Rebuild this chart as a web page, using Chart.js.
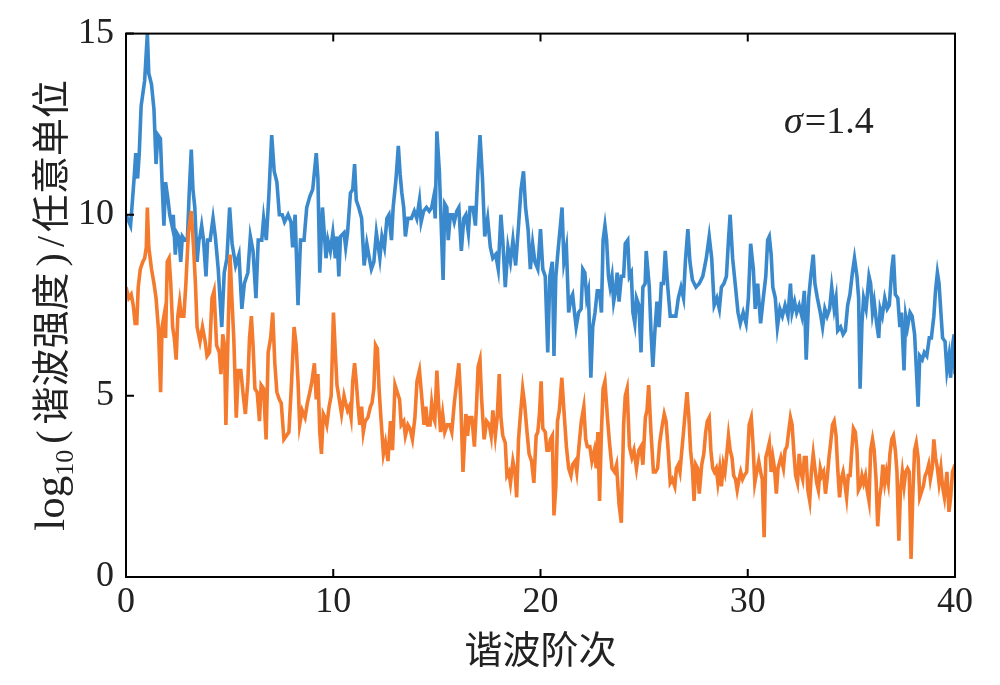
<!DOCTYPE html>
<html>
<head>
<meta charset="utf-8">
<script src="https://cdn.jsdelivr.net/npm/chart.js@4.4.1/dist/chart.umd.min.js"></script>
<style>
  html, body { margin: 0; padding: 0; background: #fff; }
</style>
</head>
<body>
<canvas id="chart" width="1000" height="685"></canvas>
<script>
// harmonic order (x) and log10 intensity (y)
const blueX = [0, 0.22, 0.39, 0.47, 0.56, 0.64, 0.73, 0.9, 1.03, 1.1, 1.23, 1.35, 1.45, 1.54, 1.66, 1.74, 1.83, 1.91, 2.03, 2.11,
  2.22, 2.28, 2.38, 2.45, 2.55, 2.64, 2.72, 2.84, 2.96, 3.05, 3.15, 3.23, 3.32, 3.43, 3.52, 3.57, 3.65, 3.74, 3.86, 3.94,
  4.06, 4.2, 4.31, 4.45, 4.62, 4.74, 4.87, 5.0, 5.12, 5.29, 5.45, 5.59, 5.71, 5.88, 6.0, 6.13, 6.27, 6.38, 6.55, 6.64,
  6.77, 6.89, 7.03, 7.15, 7.28, 7.4, 7.54, 7.65, 7.82, 7.96, 8.04, 8.16, 8.3, 8.42, 8.59, 8.72, 8.87, 9.01, 9.18, 9.26,
  9.35, 9.48, 9.65, 9.74, 9.86, 9.98, 10.1, 10.18, 10.27, 10.35, 10.52, 10.6, 10.69, 10.83, 10.94, 11.03, 11.11, 11.23, 11.37, 11.49,
  11.62, 11.74, 11.84, 11.96, 12.08, 12.18, 12.25, 12.35, 12.47, 12.59, 12.69, 12.81, 12.89, 13.03, 13.14, 13.23, 13.31, 13.4, 13.48, 13.6,
  13.77, 13.91, 14.03, 14.16, 14.24, 14.36, 14.5, 14.63, 14.75, 14.85, 14.92, 15.0, 15.12, 15.3, 15.38, 15.48, 15.55, 15.65, 15.76, 15.84,
  15.96, 16.06, 16.18, 16.3, 16.4, 16.52, 16.6, 16.74, 16.86, 16.98, 17.08, 17.2, 17.31, 17.45, 17.58, 17.7, 17.84, 17.96, 18.09, 18.18,
  18.3, 18.43, 18.55, 18.67, 18.8, 18.94, 19.06, 19.18, 19.28, 19.4, 19.51, 19.62, 19.73, 19.87, 20.0, 20.11, 20.23, 20.35, 20.45, 20.57,
  20.65, 20.74, 20.86, 20.96, 21.04, 21.13, 21.25, 21.36, 21.47, 21.55, 21.64, 21.72, 21.84, 21.96, 22.04, 22.14, 22.23, 22.31, 22.43, 22.52,
  22.63, 22.74, 22.85, 22.94, 23.02, 23.11, 23.19, 23.28, 23.36, 23.45, 23.53, 23.62, 23.7, 23.79, 23.9, 24.01, 24.09, 24.21, 24.29, 24.38,
  24.46, 24.55, 24.63, 24.75, 24.85, 24.94, 25.05, 25.1, 25.25, 25.33, 25.42, 25.52, 25.62, 25.72, 25.83, 25.93, 26.02, 26.14, 26.26, 26.39,
  26.53, 26.65, 26.78, 26.9, 26.99, 27.11, 27.21, 27.33, 27.5, 27.66, 27.83, 28.0, 28.14, 28.26, 28.38, 28.51, 28.63, 28.73, 28.85, 28.97,
  29.07, 29.15, 29.27, 29.41, 29.53, 29.64, 29.78, 29.92, 30.03, 30.14, 30.27, 30.36, 30.48, 30.62, 30.75, 30.87, 30.96, 31.04, 31.13, 31.21,
  31.33, 31.43, 31.55, 31.67, 31.8, 31.94, 32.06, 32.14, 32.26, 32.36, 32.48, 32.61, 32.73, 32.82, 32.94, 33.04, 33.16, 33.24, 33.36, 33.5,
  33.61, 33.72, 33.83, 33.95, 34.05, 34.17, 34.26, 34.34, 34.48, 34.6, 34.71, 34.82, 34.93, 35.05, 35.15, 35.27, 35.35, 35.42, 35.51, 35.59,
  35.71, 35.85, 35.93, 36.02, 36.1, 36.22, 36.32, 36.39, 36.49, 36.61, 36.73, 36.83, 36.95, 37.03, 37.12, 37.24, 37.34, 37.42, 37.54, 37.62,
  37.71, 37.83, 37.93, 38.05, 38.13, 38.22, 38.3, 38.42, 38.52, 38.64, 38.76, 38.86, 38.98, 39.06, 39.15, 39.23, 39.32, 39.4, 39.52, 39.61,
  39.71, 39.79, 39.88, 39.96, 40.0];
const blueY = [10.0, 9.7, 11.0, 11.7, 11.0, 11.7, 13.0, 13.7, 15.0, 13.9, 13.6, 12.9, 11.4, 12.2, 12.1, 10.9, 9.7, 10.9, 10.4, 10.0,
  9.7, 10.0, 8.9, 9.5, 9.4, 8.7, 9.4, 9.3, 9.3, 10.6, 11.8, 10.7, 10.2, 8.7, 9.3, 9.4, 9.7, 9.3, 8.3, 9.3,
  9.3, 9.9, 9.4, 8.5, 6.9, 8.4, 8.8, 10.2, 9.2, 8.6, 8.9, 7.4, 8.1, 8.4, 9.4, 9.0, 7.7, 9.3, 9.3, 9.9,
  9.3, 10.5, 12.2, 11.2, 10.9, 10.0, 10.0, 9.8, 10.0, 9.8, 9.1, 10.0, 7.5, 9.3, 9.3, 10.2, 10.5, 10.7, 11.7, 11.0,
  8.4, 10.2, 8.8, 9.3, 9.0, 9.5, 8.8, 9.4, 8.3, 9.4, 9.5, 9.1, 9.5, 10.6, 10.7, 11.4, 10.4, 10.2, 9.9, 8.6,
  9.2, 8.8, 8.5, 8.7, 9.5, 9.1, 8.8, 9.4, 9.1, 9.9, 10.0, 9.3, 10.2, 11.0, 11.9, 11.1, 10.6, 10.2, 9.4, 9.9,
  9.9, 10.1, 9.9, 10.4, 9.8, 10.1, 10.2, 10.1, 10.2, 10.5, 9.9, 12.3, 11.2, 8.2, 10.3, 10.2, 9.3, 10.0, 10.0, 9.8,
  10.1, 10.2, 9.0, 9.9, 10.0, 9.5, 10.2, 10.2, 9.7, 11.2, 12.2, 11.0, 9.4, 9.9, 9.1, 8.8, 8.9, 8.5, 10.0, 9.3,
  8.0, 9.1, 8.7, 9.3, 8.6, 9.7, 10.7, 11.2, 10.2, 9.6, 8.5, 9.2, 8.7, 8.5, 9.6, 8.5, 8.3, 6.2, 8.3, 8.7,
  6.1, 8.3, 9.1, 9.7, 10.2, 8.7, 9.1, 7.3, 7.7, 7.8, 7.3, 6.9, 7.3, 7.4, 8.5, 8.4, 7.7, 7.9, 5.5, 6.9,
  7.3, 7.9, 7.9, 7.3, 9.3, 9.7, 9.3, 8.3, 8.0, 8.3, 7.6, 7.9, 8.4, 7.6, 8.3, 8.3, 9.2, 9.3, 8.3, 8.4,
  7.3, 7.0, 7.7, 7.5, 6.2, 8.0, 8.1, 9.0, 8.0, 6.8, 5.8, 6.8, 7.6, 6.9, 8.1, 8.1, 9.0, 8.0, 7.2, 7.2,
  7.2, 7.7, 8.0, 7.7, 8.7, 9.6, 8.7, 8.2, 8.0, 8.1, 8.3, 8.8, 9.4, 8.8, 7.5, 7.7, 7.4, 8.0, 8.1, 8.3,
  9.3, 10.0, 8.8, 8.0, 7.3, 7.0, 7.3, 7.0, 7.7, 9.2, 8.5, 7.4, 8.1, 7.0, 7.7, 8.3, 9.3, 9.4, 8.9, 8.0,
  7.7, 6.9, 7.4, 7.2, 7.5, 7.2, 8.1, 7.3, 7.6, 7.3, 7.5, 7.2, 7.9, 6.0, 7.7, 8.3, 8.9, 8.1, 7.7, 7.3,
  6.9, 7.4, 7.2, 7.4, 8.0, 7.4, 7.7, 6.8, 6.9, 6.7, 6.8, 7.5, 7.8, 8.4, 8.8, 8.3, 7.7, 5.2, 7.0, 7.7,
  7.4, 8.3, 8.1, 7.3, 7.6, 7.0, 6.6, 7.4, 7.2, 7.7, 7.4, 7.5, 8.5, 8.9, 7.8, 7.7, 6.9, 7.3, 5.7, 7.2,
  6.9, 7.3, 7.2, 6.7, 5.8, 4.7, 6.1, 6.0, 6.2, 6.1, 6.6, 6.6, 7.2, 7.9, 8.4, 8.1, 7.3, 6.6, 6.5, 5.7,
  6.1, 5.5, 6.4, 6.7, 5.6];

const orangeX = [0, 0.13, 0.25, 0.35, 0.44, 0.52, 0.59, 0.69, 0.81, 0.9, 0.98, 1.03, 1.1, 1.23, 1.35, 1.45, 1.57, 1.67, 1.74, 1.83,
  1.91, 1.99, 2.08, 2.16, 2.25, 2.33, 2.42, 2.5, 2.59, 2.67, 2.79, 2.89, 3.01, 3.15, 3.26, 3.35, 3.43, 3.57, 3.69, 3.82,
  3.91, 4.03, 4.15, 4.25, 4.37, 4.5, 4.58, 4.67, 4.75, 4.82, 4.92, 5.02, 5.1, 5.2, 5.32, 5.42, 5.54, 5.66, 5.76, 5.88,
  5.96, 6.05, 6.13, 6.22, 6.33, 6.44, 6.52, 6.64, 6.76, 6.86, 6.98, 7.08, 7.18, 7.28, 7.4, 7.49, 7.62, 7.74, 7.86, 7.99,
  8.11, 8.21, 8.3, 8.38, 8.5, 8.64, 8.75, 8.87, 8.97, 9.09, 9.18, 9.26, 9.35, 9.43, 9.52, 9.6, 9.69, 9.8, 9.9, 10.01,
  10.1, 10.18, 10.32, 10.4, 10.52, 10.6, 10.69, 10.77, 10.86, 10.94, 11.03, 11.11, 11.2, 11.28, 11.37, 11.45, 11.54, 11.67, 11.79, 11.87,
  11.96, 12.04, 12.13, 12.21, 12.3, 12.42, 12.52, 12.64, 12.76, 12.86, 12.98, 13.09, 13.2, 13.28, 13.4, 13.48, 13.6, 13.7, 13.82, 13.94,
  14.04, 14.16, 14.28, 14.38, 14.47, 14.55, 14.67, 14.75, 14.84, 14.9, 15.0, 15.08, 15.18, 15.28, 15.38, 15.5, 15.62, 15.72, 15.84, 15.96,
  16.06, 16.15, 16.26, 16.4, 16.48, 16.57, 16.69, 16.81, 16.91, 16.99, 17.08, 17.16, 17.28, 17.4, 17.53, 17.62, 17.7, 17.82, 17.91, 18.01,
  18.09, 18.18, 18.3, 18.38, 18.47, 18.55, 18.67, 18.77, 18.85, 18.94, 19.02, 19.14, 19.23, 19.35, 19.45, 19.57, 19.68, 19.79, 19.87, 19.95,
  20.03, 20.11, 20.23, 20.31, 20.4, 20.48, 20.57, 20.65, 20.74, 20.82, 20.91, 21.03, 21.13, 21.25, 21.36, 21.47, 21.55, 21.67, 21.75, 21.87,
  21.97, 22.09, 22.18, 22.26, 22.38, 22.48, 22.6, 22.69, 22.77, 22.85, 22.94, 23.02, 23.11, 23.23, 23.33, 23.45, 23.57, 23.67, 23.79, 23.9,
  24.01, 24.09, 24.18, 24.29, 24.41, 24.51, 24.63, 24.75, 24.85, 24.94, 25.06, 25.14, 25.22, 25.33, 25.45, 25.55, 25.65, 25.75, 25.85, 25.97,
  26.06, 26.16, 26.26, 26.36, 26.48, 26.56, 26.65, 26.73, 26.82, 26.9, 26.99, 27.07, 27.16, 27.24, 27.33, 27.41, 27.49, 27.58, 27.66, 27.78,
  27.88, 27.97, 28.05, 28.14, 28.22, 28.31, 28.39, 28.48, 28.56, 28.65, 28.73, 28.82, 28.9, 28.99, 29.07, 29.15, 29.24, 29.32, 29.41, 29.49,
  29.58, 29.66, 29.75, 29.83, 29.95, 30.07, 30.17, 30.25, 30.34, 30.43, 30.53, 30.62, 30.7, 30.79, 30.87, 30.96, 31.04, 31.13, 31.21, 31.29,
  31.38, 31.46, 31.6, 31.72, 31.8, 31.89, 31.97, 32.06, 32.14, 32.23, 32.31, 32.4, 32.48, 32.56, 32.65, 32.73, 32.82, 32.9, 32.99, 33.07,
  33.16, 33.24, 33.33, 33.41, 33.5, 33.58, 33.66, 33.75, 33.83, 33.92, 34.0, 34.09, 34.17, 34.26, 34.34, 34.43, 34.51, 34.6, 34.68, 34.77,
  34.85, 34.94, 35.02, 35.1, 35.19, 35.27, 35.34, 35.42, 35.51, 35.59, 35.68, 35.76, 35.85, 35.93, 36.02, 36.1, 36.19, 36.27, 36.36, 36.44,
  36.52, 36.61, 36.69, 36.78, 36.86, 36.95, 37.03, 37.12, 37.2, 37.29, 37.37, 37.46, 37.54, 37.62, 37.71, 37.79, 37.88, 37.96, 38.05, 38.13,
  38.22, 38.3, 38.47, 38.56, 38.64, 38.73, 38.81, 38.9, 38.98, 39.06, 39.15, 39.23, 39.32, 39.4, 39.49, 39.61, 39.71, 39.79, 39.88, 40.0];
const orangeY = [8.0, 7.7, 7.8, 7.5, 7.0, 7.0, 8.0, 8.5, 8.7, 8.8, 9.1, 10.2, 9.1, 8.5, 8.1, 7.7, 6.8, 5.1, 6.9, 7.2,
  6.6, 8.7, 8.8, 8.1, 6.9, 6.6, 6.0, 7.2, 7.6, 7.2, 7.2, 8.1, 9.5, 10.1, 9.1, 8.1, 6.9, 6.5, 6.9, 6.5,
  6.1, 6.2, 7.7, 7.9, 6.4, 6.2, 5.6, 6.7, 6.4, 4.2, 6.6, 8.9, 7.8, 6.6, 4.4, 5.7, 5.7, 5.0, 4.5, 5.4,
  6.6, 7.2, 6.4, 5.2, 5.1, 4.3, 5.3, 5.2, 3.8, 6.2, 6.6, 7.3, 5.9, 5.1, 4.9, 4.8, 3.8, 3.9, 4.0, 5.4,
  6.9, 6.4, 5.4, 4.2, 4.6, 4.4, 4.8, 5.1, 5.4, 5.9, 4.9, 5.6, 4.0, 3.4, 4.5, 4.4, 4.2, 4.7, 5.0, 7.3,
  6.2, 5.3, 4.8, 4.5, 5.0, 4.8, 4.6, 4.7, 4.4, 5.4, 5.9, 5.4, 4.7, 4.2, 4.7, 4.0, 4.3, 4.4, 4.7, 4.8,
  5.2, 6.4, 6.3, 5.2, 4.4, 3.4, 3.7, 3.2, 4.3, 3.5, 5.3, 5.1, 4.9, 4.2, 4.3, 3.9, 4.2, 4.1, 3.8, 4.4,
  5.4, 5.7, 4.9, 4.2, 4.7, 4.2, 4.2, 4.8, 4.4, 4.3, 5.7, 4.8, 4.0, 4.5, 4.0, 4.2, 4.2, 4.0, 4.8, 5.4,
  5.9, 4.9, 2.9, 4.5, 3.9, 4.4, 4.4, 3.6, 4.7, 5.8, 6.0, 4.9, 3.8, 4.3, 4.2, 3.9, 4.6, 3.9, 4.4, 5.6,
  4.4, 3.9, 3.7, 2.8, 2.9, 2.6, 3.2, 2.9, 2.2, 3.8, 4.4, 5.2, 4.8, 4.0, 3.4, 3.2, 2.6, 3.9, 4.0, 4.5,
  5.4, 4.1, 4.0, 3.5, 3.5, 3.8, 3.9, 1.7, 2.5, 4.3, 4.6, 5.5, 4.6, 3.6, 3.0, 2.8, 3.1, 3.2, 2.9, 3.7,
  4.3, 4.7, 3.8, 3.6, 3.6, 3.2, 3.5, 3.0, 4.0, 2.1, 4.0, 5.2, 5.4, 4.4, 3.7, 3.0, 2.9, 3.1, 2.0, 1.5,
  4.2, 5.0, 5.2, 3.6, 3.3, 3.5, 3.0, 3.5, 3.6, 3.1, 4.4, 4.6, 5.3, 4.0, 2.9, 2.9, 3.0, 3.7, 4.1, 4.5,
  4.3, 3.5, 2.6, 2.7, 2.5, 3.0, 3.1, 2.9, 3.5, 4.0, 4.6, 5.1, 4.4, 3.5, 3.0, 2.1, 3.1, 3.0, 2.3, 3.1,
  3.4, 4.0, 4.3, 4.4, 3.5, 3.0, 2.9, 3.0, 2.6, 3.0, 2.5, 3.1, 2.9, 3.4, 3.9, 3.5, 3.3, 2.8, 2.7, 2.4,
  2.7, 2.9, 2.7, 2.8, 2.9, 4.2, 4.4, 3.7, 2.6, 2.9, 3.2, 2.9, 2.7, 1.1, 3.3, 3.5, 3.7, 2.9, 3.3, 3.0,
  2.3, 3.0, 3.3, 3.0, 3.5, 3.6, 4.0, 4.4, 4.2, 3.4, 2.8, 2.6, 3.4, 2.9, 2.7, 3.3, 3.3, 2.4, 2.1, 2.9,
  3.4, 3.0, 2.6, 2.4, 3.0, 2.8, 2.9, 2.3, 2.7, 3.3, 3.7, 4.2, 4.3, 3.9, 3.0, 2.2, 2.7, 2.9, 2.6, 2.2,
  2.8, 2.8, 3.5, 4.1, 4.0, 3.5, 2.4, 2.5, 2.8, 2.6, 2.8, 2.4, 2.1, 3.5, 3.8, 3.5, 2.7, 1.4, 2.2, 2.5,
  3.1, 2.6, 2.9, 2.6, 3.4, 3.8, 3.9, 3.5, 2.9, 1.0, 2.4, 2.9, 2.5, 2.9, 3.0, 2.9, 0.5, 2.2, 3.5, 3.7,
  3.3, 2.2, 2.5, 2.8, 2.9, 3.1, 2.7, 3.0, 3.8, 3.3, 3.0, 2.6, 3.0, 2.5, 2.2, 2.9, 1.8, 2.2, 2.9, 3.1];

const xTicks = [0, 10, 20, 30, 40];
const yTicks = [0, 5, 10, 15];
const xTitle = '谐波阶次';
const sigmaText = '=1.4';

const serif = '"Liberation Serif", "DejaVu Serif", serif';
const cjk = '"Noto Sans CJK SC", sans-serif';

function pairs(xs, ys) {
  return xs.map((x, i) => ({ x: x, y: ys[i] }));
}

// black frame plus inward tick marks (left, bottom, top)
const frameTicks = {
  id: 'frameTicks',
  afterDatasetsDraw(chart) {
    const { ctx, chartArea: a, scales } = chart;
    const len = 8;
    ctx.save();
    ctx.strokeStyle = '#000';
    ctx.lineWidth = 2;
    ctx.strokeRect(a.left, a.top, a.right - a.left, a.bottom - a.top);
    ctx.beginPath();
    xTicks.forEach(v => {
      const px = scales.x.getPixelForValue(v);
      ctx.moveTo(px, a.bottom); ctx.lineTo(px, a.bottom - len);
      ctx.moveTo(px, a.top); ctx.lineTo(px, a.top + len);
    });
    yTicks.forEach(v => {
      const py = scales.y.getPixelForValue(v);
      ctx.moveTo(a.left, py); ctx.lineTo(a.left + len, py);
    });
    ctx.stroke();
    ctx.restore();
  }
};

// y title with a subscript, plus the sigma note
const texts = {
  id: 'texts',
  afterDraw(chart) {
    const { ctx, chartArea: a } = chart;
    ctx.save();
    ctx.fillStyle = '#222';
    ctx.textBaseline = 'alphabetic';

    const parts = [
      { t: 'log', f: '43px ' + serif, dy: 0, pre: 0, post: 0 },
      { t: '10', f: '26px ' + serif, dy: 9, pre: 0, post: 2 },
      { t: '(', f: '40px ' + serif, dy: 0, pre: 4, post: 6 },
      { t: '谐波强度', f: '38px ' + cjk, dy: 0, pre: 0, post: 0 },
      { t: ')', f: '40px ' + serif, dy: 0, pre: 6, post: 4 },
      { t: '/', f: '40px ' + serif, dy: 0, pre: 2, post: 4 },
      { t: '任意单位', f: '38px ' + cjk, dy: 0, pre: 0, post: 0 }
    ];
    let total = 0;
    parts.forEach(p => { ctx.font = p.f; p.w = ctx.measureText(p.t).width; total += p.pre + p.w + p.post; });
    ctx.translate(64, (a.top + a.bottom) / 2);
    ctx.rotate(-Math.PI / 2);
    let x = -total / 2;
    parts.forEach(p => {
      ctx.font = p.f;
      x += p.pre;
      ctx.fillText(p.t, x, p.dy);
      x += p.w + p.post;
    });
    ctx.restore();

    ctx.save();
    ctx.fillStyle = '#222';
    ctx.textBaseline = 'alphabetic';
    ctx.font = 'italic 38px ' + serif;
    ctx.fillText('σ', 784, 133);
    const sw = ctx.measureText('σ').width;
    ctx.font = '38px ' + serif;
    ctx.fillText(sigmaText, 784 + sw + 2, 133);
    ctx.restore();
  }
};

new Chart(document.getElementById('chart'), {
  type: 'line',
  data: {
    datasets: [
      {
        data: pairs(orangeX, orangeY),
        borderColor: '#f47a2e',
        borderWidth: 3.6,
        pointRadius: 0,
        tension: 0,
        fill: false
      },
      {
        data: pairs(blueX, blueY),
        borderColor: '#3a89cc',
        borderWidth: 3.6,
        pointRadius: 0,
        tension: 0,
        fill: false
      }
    ]
  },
  options: {
    responsive: false,
    animation: false,
    layout: { padding: { top: 33, right: 45, left: 0, bottom: 0 } },
    plugins: { legend: { display: false }, tooltip: { enabled: false } },
    scales: {
      x: {
        type: 'linear',
        min: 0,
        max: 40,
        afterBuildTicks: s => { s.ticks = xTicks.map(v => ({ value: v })); },
        afterFit: s => { s.height = 108; },
        grid: { display: false, drawTicks: false },
        border: { display: false },
        ticks: { font: { family: serif, size: 36 }, color: '#222', padding: 4, maxRotation: 0 },
        title: { display: true, text: xTitle, font: { family: cjk, size: 38 }, color: '#222', padding: { top: 0, bottom: 14 } }
      },
      y: {
        min: 0,
        max: 15,
        afterBuildTicks: s => { s.ticks = yTicks.map(v => ({ value: v })); },
        afterFit: s => { s.width = 126; },
        grid: { display: false, drawTicks: false },
        border: { display: false },
        ticks: { font: { family: serif, size: 36 }, color: '#222', padding: 12 }
      }
    }
  },
  plugins: [frameTicks, texts]
});
</script>
</body>
</html>
